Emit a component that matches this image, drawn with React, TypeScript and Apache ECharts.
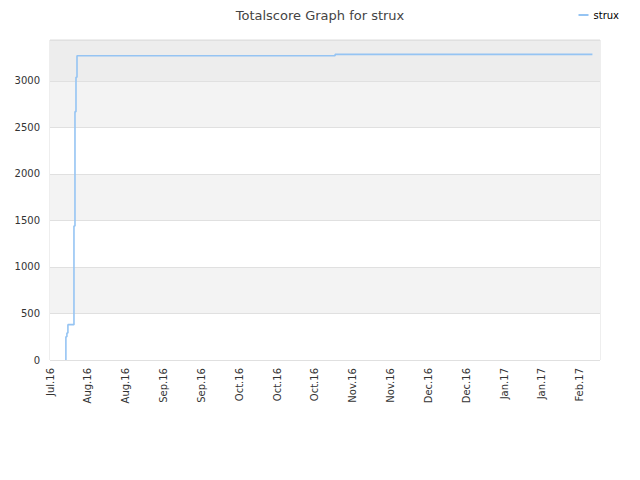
import React, { useEffect, useRef } from "react";
import * as echarts from "echarts";

// days since 2016-07-18
const startDate = Date.UTC(2016, 6, 18);
const dayOffsets = [6.3, 6.3, 6.7, 7.1, 9.5, 9.9, 10.3, 10.7, 113, 215];
const scores = [0, 250, 290, 380, 1440, 2670, 3040, 3270, 3285, 3285];
const monthNames = ["Jan", "Feb", "Mar", "Apr", "May", "Jun", "Jul", "Aug", "Sep", "Oct", "Nov", "Dec"];
const seriesName = "strux";
const titleText = "Totalscore Graph for strux";

export default function App() {
  const ref = useRef<HTMLDivElement>(null);
  useEffect(() => {
    if (!ref.current) return;
    const chart = echarts.init(ref.current, null, { renderer: "svg" });
    const font = "DejaVu Sans";
    chart.setOption({
      animation: false,
      title: {
        text: titleText,
        left: "center",
        top: 4,
        textStyle: { fontFamily: font, fontSize: 13, fontWeight: "normal", color: "#444" },
      },
      legend: {
        right: 16,
        top: 5,
        icon: "rect",
        itemWidth: 10,
        itemHeight: 2,
        itemGap: 8,
        textStyle: { fontFamily: font, fontSize: 10, color: "#000" },
        data: [seriesName],
      },
      grid: {
        left: 50,
        right: 40,
        top: 40,
        bottom: 120,
        show: true,
        borderColor: "#dddddd",
        borderWidth: 1,
      },
      xAxis: {
        type: "value",
        min: 0,
        max: 218,
        interval: 15,
        axisLine: { show: false },
        axisTick: { show: false },
        splitLine: { show: false },
        axisLabel: {
          rotate: 90,
          fontFamily: font,
          fontSize: 10,
          color: "#333",
          margin: 8,
          showMaxLabel: false,
          formatter: (v: number) => {
            const d = new Date(startDate + v * 86400000);
            return monthNames[d.getUTCMonth()] + "." + String(d.getUTCFullYear()).slice(2);
          },
        },
      },
      yAxis: {
        type: "value",
        min: 0,
        max: 3440,
        interval: 500,
        axisLine: { show: false },
        axisTick: { show: false },
        splitLine: { show: true, lineStyle: { color: "#e0e0e0" } },
        splitArea: {
          show: true,
          areaStyle: {
            color: ["#ffffff", "#f3f3f3", "#ffffff", "#f3f3f3", "#ffffff", "#f3f3f3", "#ededed"],
          },
        },
        axisLabel: {
          fontFamily: font,
          fontSize: 10,
          color: "#333",
          margin: 10,
          showMaxLabel: false,
          formatter: (v: number) => String(v),
        },
      },
      series: [
        {
          name: seriesName,
          type: "line",
          step: "end",
          symbol: "none",
          data: dayOffsets.map((d, i) => [d, scores[i]]),
          lineStyle: { color: "#95c4f3", width: 1.6 },
          itemStyle: { color: "#95c4f3" },
        },
      ],
    });
    return () => chart.dispose();
  }, []);
  return <div ref={ref} style={{ width: 640, height: 480, position: "absolute", left: 0, top: 0 }} />;
}
